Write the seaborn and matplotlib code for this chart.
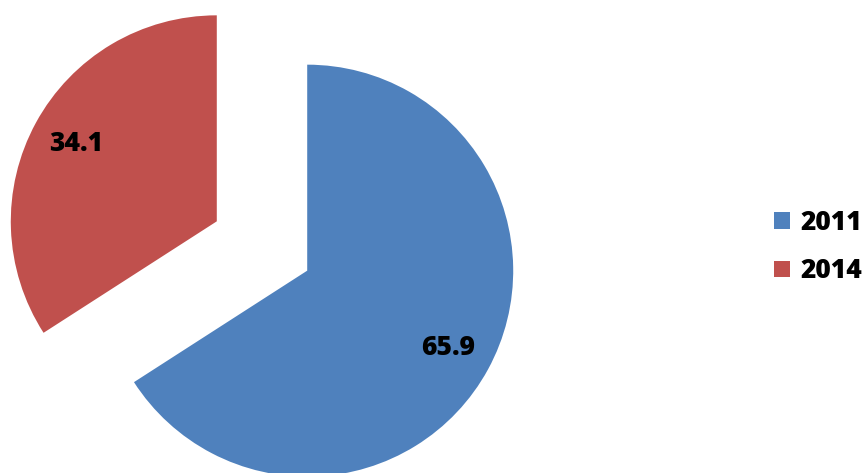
import matplotlib
matplotlib.use("Agg")
import matplotlib.pyplot as plt
import seaborn as sns

years = ["2011", "2014"]
shares = [65.9, 34.1]
colors = ["#4F81BD", "#C0504D"]

sns.set_theme(style="white")
plt.rcParams["font.family"] = ["Open Sans", "DejaVu Sans"]

W, H = 866, 473
fig = plt.figure(figsize=(W / 100, H / 100), dpi=100)
ax = fig.add_axes([0, 0, 1, 1])

wedges, texts, autotexts = ax.pie(
    shares,
    colors=colors,
    startangle=90,
    counterclock=False,
    explode=[0.25, 0.25],
    radius=1.0,
    autopct=lambda p: f"{p:.1f}",
    pctdistance=0.78,
    wedgeprops=dict(linewidth=0),
    textprops=dict(fontsize=19, fontweight="heavy", color="black"),
)

# pie centre and scale in pixels
cx, cy, r = 262, 246, 206
ax.set_xlim(-cx / r, (W - cx) / r)
ax.set_ylim(-(H - cy) / r, cy / r)
ax.set_aspect("equal")
ax.axis("off")

leg = fig.legend(
    wedges, years,
    loc="center left",
    bbox_to_anchor=(761 / W, 1 - 247 / H),
    frameon=False,
    borderpad=0,
    handlelength=0.6,
    handleheight=0.6,
    handletextpad=0.4,
    labelspacing=0.85,
    labelcolor="black",
    prop=dict(size=19, weight="heavy"),
)

fig.savefig("out.png", dpi=100)
